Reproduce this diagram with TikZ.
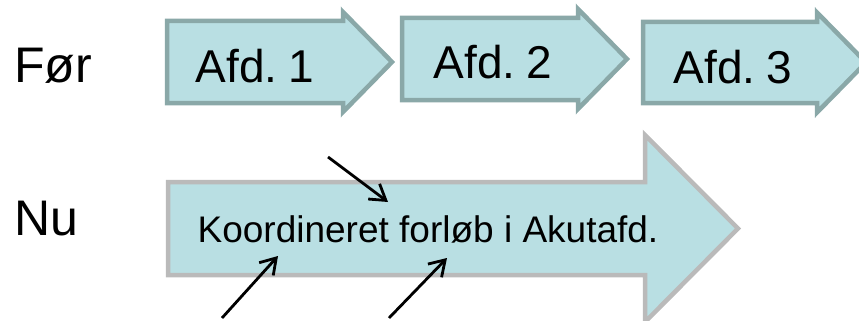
\documentclass[tikz,border=0pt]{standalone}
\usepackage{fontspec}
\setmainfont{Liberation Sans}
\usetikzlibrary{arrows.meta}
\definecolor{afdfill}{RGB}{185,223,227}
\definecolor{afdline}{RGB}{138,168,168}
\definecolor{akutline}{RGB}{186,186,186}

% flowarrow: style, tail x, head x, tip x, mid y, body half, head half
\newcommand{\flowarrow}[7]{%
  \draw[#1] (#2,#5-#6) -- (#3,#5-#6) -- (#3,#5-#7) -- (#4,#5)
    -- (#3,#5+#7) -- (#3,#5+#6) -- (#2,#5+#6) -- cycle;}

\begin{document}
\begin{tikzpicture}[x=1pt,y=-1pt,
  afd/.style={fill=afdfill,draw=afdline,line width=4.5pt,line join=miter},
  akut/.style={fill=afdfill,draw=akutline,line width=4.5pt,line join=miter},
  rowtext/.style={font=\fontsize{50}{56}\selectfont,inner sep=0pt,anchor=base west},
  afdtext/.style={font=\fontsize{46}{52}\selectfont,inner sep=0pt,anchor=base},
  akuttext/.style={font=\fontsize{37}{42}\selectfont,inner sep=0pt,anchor=base},
  pil/.style={line width=2.8pt,-{Straight Barb[length=15pt,width=19pt]}}]
  \useasboundingbox (0,0) rectangle (859,321);

  % Foer
  \node[rowtext] (foer) at (14,82) {Før};
  \flowarrow{afd}{167}{343}{392}{62}{41}{50}
  \flowarrow{afd}{402}{578}{627}{59}{41}{50}
  \flowarrow{afd}{643}{817}{866}{62.5}{40.5}{50}
  \node[afdtext] (afd1) at (255,82) {Afd.\kern-2pt\ 1};
  \node[afdtext] (afd2) at (493,78) {Afd.\kern-2pt\ 2};
  \node[afdtext] (afd3) at (733,83) {Afd.\kern-2pt\ 3};

  % Nu
  \node[rowtext] (nu) at (14,235) {Nu};
  \flowarrow{akut}{168}{645}{738}{228.5}{46.5}{93.5}
  \node[akuttext] (akut) at (428,242) {Koordineret forløb i Akutafd.};

  % pile
  \coordinate (fra1) at (328,157);
  \coordinate (til1) at (388,202);
  \coordinate (fra2) at (222,318);
  \coordinate (til2) at (278,256);
  \coordinate (fra3) at (389,318);
  \coordinate (til3) at (447,258);
  \draw[pil] (fra1) -- (til1);
  \draw[pil] (fra2) -- (til2);
  \draw[pil] (fra3) -- (til3);
\end{tikzpicture}
\end{document}
